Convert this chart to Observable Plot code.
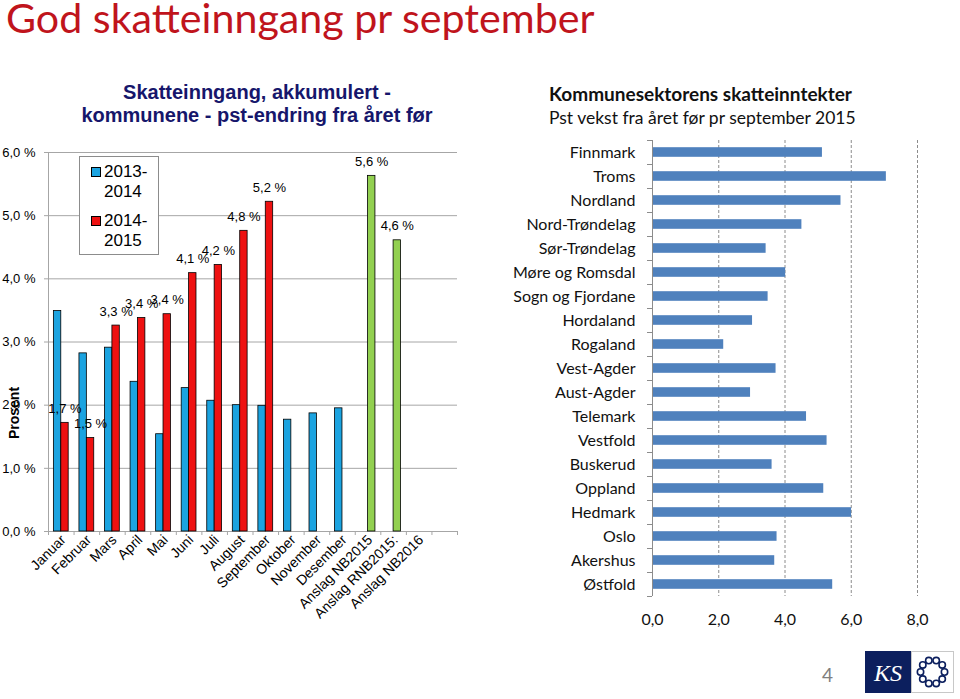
<!DOCTYPE html>
<html><head><meta charset="utf-8">
<script src="https://cdn.jsdelivr.net/npm/d3@7"></script>
<script src="https://cdn.jsdelivr.net/npm/@observablehq/plot@0.6"></script>
<style>
body{margin:0;width:960px;height:699px;background:#fff;position:relative;overflow:hidden;font-family:"Liberation Sans",Arial,sans-serif}
.abs{position:absolute;white-space:nowrap}
#title{left:6px;top:1px;font-family:Lato,sans-serif;font-size:41.2px;color:#c0141c;line-height:32px}
#lsub{left:57px;top:81px;width:400px;text-align:center;font-weight:bold;font-size:20px;line-height:23px;color:#16166b}
#rsub1{left:549px;top:82px;font-family:Lato,sans-serif;font-weight:bold;font-size:19px;line-height:24px;color:#111}
#rsub2{left:549px;top:106px;font-family:Lato,sans-serif;font-size:17.5px;line-height:24px;color:#111}
#legend{left:79px;top:156px;width:78px;height:97px;border:1px solid #8c8c8c;background:#fff}
.sw{position:absolute;width:8px;height:8px;border:1px solid #000}
.lt{position:absolute;font-size:17px;line-height:20px;color:#000}
#prosent{left:14px;top:413px;transform:translate(-50%,-50%) rotate(-90deg);font-weight:bold;font-size:14px}
#left{left:0;top:140px}
#right{left:500px;top:130px}
#pnum{left:822px;top:663px;font-family:Lato,sans-serif;font-size:19px;color:#7f7f7f}
#logo{left:865px;top:651px}
</style></head><body>
<div id="title" class="abs">God skatteinngang pr september</div>
<div id="lsub" class="abs">Skatteinngang, akkumulert -<br>kommunene - pst-endring fra året før</div>
<div id="rsub1" class="abs">Kommunesektorens skatteinntekter</div>
<div id="rsub2" class="abs">Pst vekst fra året før pr september 2015</div>
<div id="left" class="abs"></div>
<div id="right" class="abs"></div>
<div id="legend" class="abs"></div>
<div id="prosent" class="abs">Prosent</div>
<div id="pnum" class="abs">4</div>
<svg id="logo" class="abs" width="90" height="43" viewBox="0 0 90 43">
  <rect x="0" y="0" width="46" height="42" fill="#0c1f5e"/>
  <text x="23" y="30" text-anchor="middle" fill="#fff" font-family="Liberation Serif" font-style="italic" font-size="24">KS</text>
  <rect x="46.5" y="0.5" width="42" height="41" fill="#fff" stroke="#c8c8c8"/>
  <g id="ring" fill="none" stroke="#0c1f5e" stroke-width="1.6"></g>
</svg>
<script>
// ---------- data: left chart ----------
const categories = ["Januar","Februar","Mars","April","Mai","Juni","Juli","August","September","Oktober","November","Desember","Anslag NB2015","Anslag RNB2015:","Anslag NB2016"," "];
const months2013_2014 = ["Januar","Februar","Mars","April","Mai","Juni","Juli","August","September","Oktober","November","Desember"];
const values2013_2014 = [3.49, 2.82, 2.91, 2.37, 1.54, 2.27, 2.07, 2.0, 1.99, 1.77, 1.87, 1.95];
const months2014_2015 = ["Januar","Februar","Mars","April","Mai","Juni","Juli","August","September"];
const values2014_2015 = [1.72, 1.48, 3.26, 3.38, 3.44, 4.09, 4.22, 4.76, 5.22];
const anslagCategories = ["Anslag NB2015","Anslag RNB2015:"];
const anslagValues = [5.63, 4.61];
const leftTicks = [0, 1, 2, 3, 4, 5, 6];
const legendLabels = [["2013-","2014"],["2014-","2015"]];

// ---------- data: right chart ----------
const regions = ["Finnmark","Troms","Nordland","Nord-Trøndelag","Sør-Trøndelag","Møre og Romsdal","Sogn og Fjordane","Hordaland","Rogaland","Vest-Agder","Aust-Agder","Telemark","Vestfold","Buskerud","Oppland","Hedmark","Oslo","Akershus","Østfold"];
const regionValues = [5.13, 7.06, 5.69, 4.51, 3.43, 4.02, 3.49, 3.02, 2.15, 3.73, 2.96, 4.65, 5.27, 3.61, 5.17, 6.01, 3.76, 3.69, 5.44];
const rightTicks = [0, 2, 4, 6, 8];

const colBlue = "#1ba3e0", colRed = "#ee1111", colGreen = "#92d050", gridGray = "#a6a6a6";
const comma = (v) => v.toFixed(1).replace(".", ",");

// ---------- left chart ----------
{
  const W = 480, H = 489, mL = 48, mR = 23, mT = 12, mB = 98;
  const step = (W - mL - mR) / categories.length;
  const barW = 7.4;
  const blue = months2013_2014.map((m, i) => ({cat: m, v: values2013_2014[i]}));
  const red = months2014_2015.map((m, i) => ({cat: m, v: values2014_2015[i], c: colRed}))
    .concat(anslagCategories.map((m, i) => ({cat: m, v: anslagValues[i], c: colGreen})));
  const chart = Plot.plot({
    width: W, height: H, marginLeft: mL, marginRight: mR, marginTop: mT, marginBottom: mB,
    style: {fontFamily: "Liberation Sans, Arial, sans-serif", background: "transparent", color: "#000"},
    x: {domain: categories, padding: 0, round: false, axis: null},
    y: {domain: [0, 6], axis: null},
    marks: [
      Plot.gridY(leftTicks, {stroke: gridGray, strokeOpacity: 1}),
      Plot.ruleX([categories[0]], {dx: -step / 2, stroke: gridGray}),
      Plot.axisY(leftTicks, {tickSize: 4, tickPadding: 9, stroke: gridGray, fontSize: 13, tickFormat: (d) => comma(d) + " %", label: null}),
      Plot.axisX(categories, {tickSize: 4, dx: -step / 2, stroke: gridGray, tickFormat: () => "", label: null}),
      Plot.axisX([categories[categories.length - 1]], {tickSize: 4, dx: step / 2, stroke: gridGray, tickFormat: () => "", label: null}),
      Plot.axisX(categories, {tickSize: 0, tickPadding: 6, tickRotate: -45, fontSize: 14, dx: 2, tickFormat: (d) => d.trim(), label: null}),
      Plot.barY(blue, {x: "cat", y: "v", fill: colBlue, stroke: "#000", strokeWidth: 0.8, insetLeft: step / 2 - barW, insetRight: step / 2}),
      Plot.barY(red, {x: "cat", y: "v", fill: "c", stroke: "#000", strokeWidth: 0.8, insetLeft: step / 2, insetRight: step / 2 - barW}),
      Plot.text(red, {x: "cat", y: "v", text: (d) => comma(d.v) + " %", dx: barW / 2, dy: -14, fontSize: 13, fill: "#000"})
    ]
  });
  document.getElementById("left").append(chart);
}

// ---------- legend ----------
{
  const lg = document.getElementById("legend");
  const cols = [colBlue, colRed];
  const swTop = [10, 59], txtTop = [5, 54];
  legendLabels.forEach((lines, i) => {
    const sw = document.createElement("div");
    sw.className = "sw"; sw.style.left = "11px"; sw.style.top = swTop[i] + "px"; sw.style.background = cols[i];
    lg.append(sw);
    const t = document.createElement("div");
    t.className = "lt"; t.style.left = "24px"; t.style.top = txtTop[i] + "px";
    t.innerHTML = lines.join("<br>");
    lg.append(t);
  });
}

// ---------- right chart ----------
{
  const W = 460, H = 506, mL = 152, mR = 43, mT = 10, mB = 40;
  const step = (H - mT - mB) / regions.length;
  const data = regions.map((r, i) => ({r, v: regionValues[i]}));
  const chart = Plot.plot({
    width: W, height: H, marginLeft: mL, marginRight: mR, marginTop: mT, marginBottom: mB,
    style: {fontFamily: "Lato, sans-serif", background: "transparent", color: "#111"},
    x: {domain: [0, 8], axis: null},
    y: {domain: regions, paddingInner: 0.6, paddingOuter: 0.3, round: false, axis: null},
    marks: [
      Plot.gridX(rightTicks.filter((d) => d > 0), {stroke: "#8c8c8c", strokeOpacity: 1, strokeDasharray: "3,2"}),
      Plot.barX(data, {x: "v", y: "r", fill: "#4f81bd"}),
      Plot.ruleX([0], {stroke: "#8c8c8c"}),
      Plot.axisY(regions, {tickSize: 5, dy: -step / 2, stroke: "#8c8c8c", tickFormat: () => "", label: null}),
      Plot.axisY([regions[regions.length - 1]], {tickSize: 5, dy: step / 2, stroke: "#8c8c8c", tickFormat: () => "", label: null}),
      Plot.axisY(regions, {tickSize: 0, tickPadding: 17, fontSize: 16, label: null}),
      Plot.axisX(rightTicks, {tickSize: 0, tickPadding: 17, fontSize: 16, tickFormat: comma, label: null})
    ]
  });
  document.getElementById("right").append(chart);
}

// ---------- logo ring (decoration) ----------
{
  const g = document.getElementById("ring");
  for (let k = 0; k < 10; k++) {
    const a = k / 10 * 2 * Math.PI;
    const c = document.createElementNS("http://www.w3.org/2000/svg", "circle");
    c.setAttribute("cx", 67.5 + 12 * Math.cos(a));
    c.setAttribute("cy", 21 + 12 * Math.sin(a));
    c.setAttribute("r", 3.2);
    g.append(c);
  }
}
</script>
</body></html>
